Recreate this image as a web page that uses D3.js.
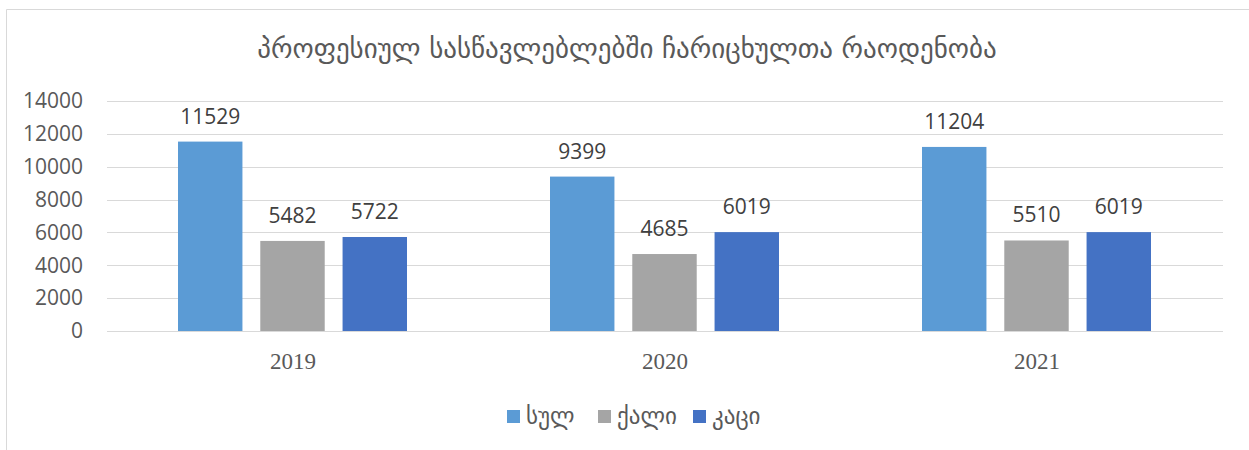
<!DOCTYPE html>
<html><head><meta charset="utf-8">
<script src="https://cdn.jsdelivr.net/npm/d3@7/dist/d3.min.js"></script>
<style>body{margin:0;background:#fff}svg{display:block}</style>
</head><body><svg id="c" width="1249" height="450"></svg>
<script>
const categories = ["2019", "2020", "2021"];
const seriesNames = ["სულ", "ქალი", "კაცი"];
const total = [11529, 9399, 11204];
const female = [5482, 4685, 5510];
const male = [5722, 6019, 6019];
const yTicks = [0, 2000, 4000, 6000, 8000, 10000, 12000, 14000];
const colors = ["#5B9BD5", "#A5A5A5", "#4472C4"];
const title = "პროფესიულ სასწავლებლებში ჩარიცხულთა რაოდენობა";

(function() {
const seriesValues = [total, female, male];
const svg = d3.select("#c");
const pLeft = 107, pRight = 1223, pTop = 101, pBottom = 331;

// border
svg.append("path").attr("d", "M6.5,450 L6.5,9.5 L1249,9.5").attr("fill", "none").attr("stroke", "#D9D9D9").attr("stroke-width", 1);

const y = d3.scaleLinear().domain([0, 14000]).range([pBottom, pTop]);
const x0 = d3.scaleBand().domain(categories).range([pLeft, pRight]).padding(0);
const x1 = d3.scaleBand().domain(seriesNames).range([71, 300]).paddingInner(18/83).paddingOuter(0);

// grid
svg.append("g").selectAll("line").data(yTicks).join("line")
  .attr("x1", pLeft).attr("x2", pRight)
  .attr("y1", d => Math.round(y(d)) + 0.5).attr("y2", d => Math.round(y(d)) + 0.5)
  .attr("stroke", "#D9D9D9").attr("stroke-width", 1);

// y axis labels
const yAxis = d3.axisLeft(y).tickValues(yTicks).tickSize(0).tickPadding(0).tickFormat(d3.format("d"));
const ya = svg.append("g").attr("transform", `translate(83,0)`).call(yAxis);
ya.select(".domain").remove();
ya.selectAll("text").attr("fill", "#595959").style("font-family", "'Open Sans','Liberation Sans',sans-serif").style("font-size", "21px");

// bars
const groups = svg.append("g").selectAll("g").data(categories).join("g")
  .attr("transform", d => `translate(${x0(d)},0)`);
groups.each(function(cat, ci) {
  const g = d3.select(this);
  const data = seriesNames.map((s, si) => ({s, si, v: seriesValues[si][ci]}));
  g.selectAll("rect").data(data).join("rect")
    .attr("x", d => x1(d.s)).attr("width", x1.bandwidth())
    .attr("y", d => y(d.v)).attr("height", d => y(0) - y(d.v))
    .attr("fill", d => colors[d.si]);
  g.selectAll("text").data(data).join("text")
    .attr("x", d => x1(d.s) + x1.bandwidth() / 2)
    .attr("y", d => y(d.v) - 18)
    .attr("text-anchor", "middle").attr("fill", "#404040")
    .style("font-family", "'Open Sans','Liberation Sans',sans-serif").style("font-size", "21px")
    .text(d => d.v);
});

// x axis labels
const xAxis = d3.axisBottom(x0).tickSize(0).tickPadding(0);
const xa = svg.append("g").attr("transform", `translate(0,${pBottom + 22})`).call(xAxis);
xa.select(".domain").remove();
xa.selectAll("text").attr("fill", "#595959").style("font-family", "'Liberation Serif',serif").style("font-size", "23px");

// title
svg.append("text").attr("x", 627).attr("y", 58).attr("text-anchor", "middle")
  .attr("fill", "#595959").style("font-family", "'DejaVu Sans',sans-serif").style("font-size", "27px")
  .text(title);

// legend
const legendX = [507, 598, 693];
const lg = svg.append("g").selectAll("g").data(seriesNames).join("g")
  .attr("transform", (d, i) => `translate(${legendX[i]},410)`);
lg.append("rect").attr("width", 13).attr("height", 13).attr("fill", (d, i) => colors[i]);
lg.append("text").attr("x", 19).attr("y", 14).attr("fill", "#595959")
  .style("font-family", "'DejaVu Sans',sans-serif").style("font-size", "23px").text(d => d);
})();
</script></body></html>
